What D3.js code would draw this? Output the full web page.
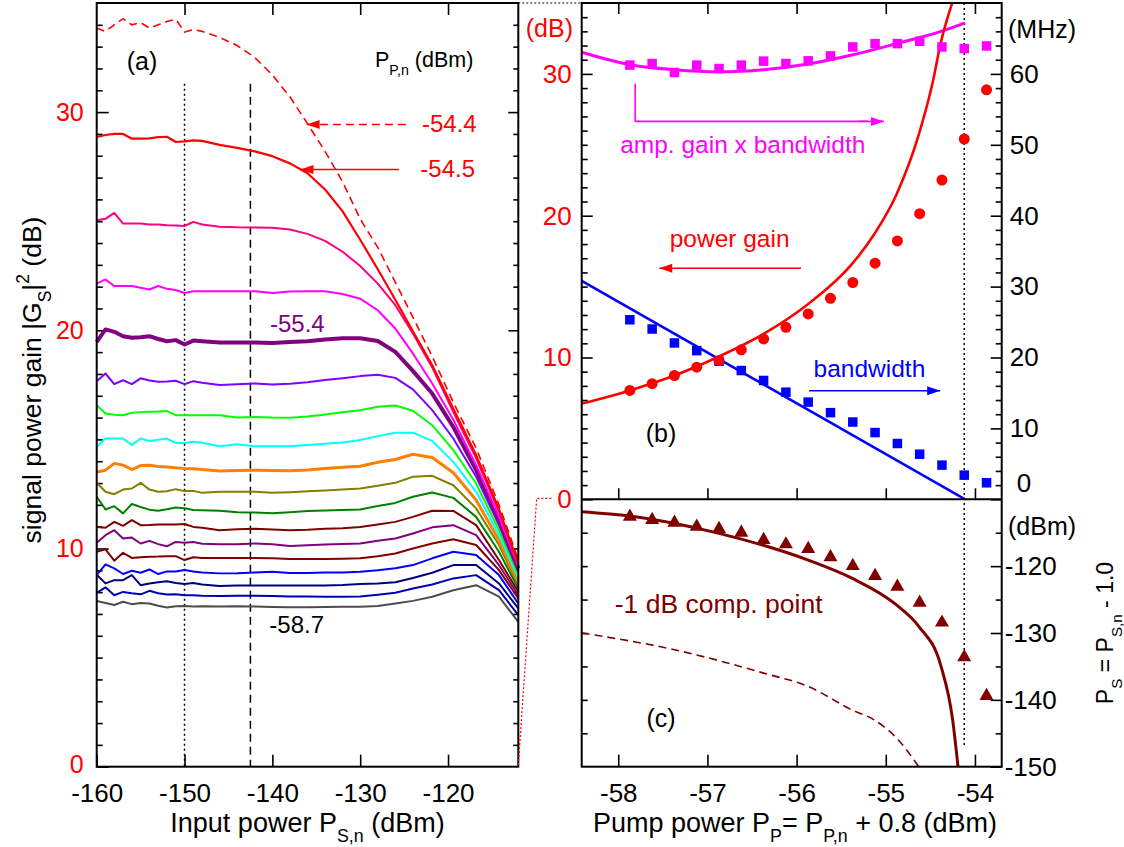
<!DOCTYPE html>
<html><head><meta charset="utf-8">
<script src="https://cdn.jsdelivr.net/npm/d3@7"></script>
<style>
body{margin:0;background:#fff;}
text{font-family:"Liberation Sans",Arial,sans-serif;white-space:pre;}
</style></head><body>
<script>
// ---- panel (a): gain vs input power, one curve per pump power P_P,n ----
const inputPower=[-160,-159,-158,-157,-156,-155,-154,-153,-152,-151,-150,-149,-148,-146,-144,-142,-140,-138,-136,-134,-132,-130,-128,-126,-124,-121.8,-119.4,-116.8,-114.2,-112];
const gainP544=[33.85,33.7,34.0,34.28,34.0,34.1,33.85,34.0,34.15,34.25,33.67,33.78,33.7,33.42,33.05,32.5,31.7,30.7,29.47,28.2,26.8,25.1,23.8,22.2,20.6,18.8,16.7,14.6,12.0,9.5];
const gainP545=[28.86,28.95,29.0,29.0,28.78,28.78,28.8,28.85,28.87,28.63,28.66,28.7,28.68,28.5,28.36,28.2,27.98,27.65,27.2,26.45,25.45,24.15,22.8,21.4,19.95,18.4,16.4,14.28,11.8,9.32];
const gainP549=[25.04,25.11,25.38,24.89,24.89,24.89,24.85,24.85,24.82,24.8,24.78,24.97,24.85,24.75,24.72,24.71,24.7,24.62,24.42,24.1,23.6,22.95,22.14,21.15,19.85,18.3,16.25,14.13,11.68,9.24];
const gainP552=[22.14,22.33,22.03,22.03,22.03,21.95,21.87,22.03,21.9,21.85,21.71,21.79,21.79,21.79,21.79,21.79,21.71,21.78,21.79,21.79,21.66,21.45,20.92,20.08,18.94,17.56,15.9,13.82,11.45,9.16];
const gainP554=[19.47,20.04,19.93,19.73,19.66,19.68,19.73,19.6,19.5,19.55,19.35,19.53,19.5,19.44,19.44,19.44,19.42,19.46,19.5,19.58,19.64,19.64,19.51,19.01,18.14,17.1,15.57,13.59,11.3,9.09];
const gainP557=[17.67,18.02,17.53,17.71,17.53,17.8,17.7,17.64,17.65,17.69,17.53,17.67,17.6,17.49,17.53,17.56,17.52,17.55,17.62,17.72,17.8,17.9,17.96,17.82,17.29,16.34,15.04,13.29,11.07,8.93];
const gainP559=[16.57,16.19,16.13,16.11,16.22,16.25,16.27,16.28,16.3,16.11,16.11,16.11,16.11,16.11,16.0,16.03,16.0,15.99,16.05,16.14,16.24,16.34,16.5,16.55,16.31,15.65,14.51,12.98,10.84,8.78];
const gainP562=[14.66,15.04,15.04,15.04,14.74,15.04,14.93,14.98,15.04,14.84,14.84,14.89,14.85,14.69,14.78,14.69,14.69,14.69,14.74,14.8,14.86,14.97,15.15,15.3,15.31,14.93,13.97,12.6,10.61,8.63];
const gainP564=[13.51,13.59,13.9,13.82,13.62,13.8,13.82,13.76,13.74,13.7,13.67,13.66,13.62,13.55,13.57,13.59,13.57,13.56,13.6,13.67,13.72,13.77,13.95,14.08,14.32,14.17,13.47,12.22,10.38,8.48];
const gainP567=[13.01,12.6,12.49,12.7,12.75,13.01,12.7,12.6,12.62,12.72,12.63,12.64,12.55,12.6,12.6,12.6,12.55,12.58,12.62,12.66,12.7,12.75,12.88,13.01,13.29,13.33,12.9,11.84,10.16,8.32];
const gainP569=[12.37,11.79,11.94,11.61,12.04,11.9,11.78,11.73,11.8,11.88,11.84,11.76,11.75,11.73,11.66,11.65,11.61,11.66,11.72,11.74,11.76,11.79,11.95,12.09,12.37,12.57,12.32,11.45,9.85,8.17];
const gainP572=[10.99,10.95,11.22,11.04,11.3,11.07,11.08,11.1,11.1,11.1,11.12,10.99,10.95,10.84,10.88,10.9,10.87,10.84,10.86,10.9,10.93,10.99,11.1,11.22,11.45,11.73,11.72,11.07,9.47,8.02];
const gainP574=[10.26,10.61,10.84,10.46,10.5,10.23,10.35,10.2,10.1,10.3,10.26,10.3,10.22,10.19,10.2,10.23,10.2,10.12,10.15,10.18,10.21,10.23,10.35,10.46,10.69,10.97,11.07,10.61,9.24,7.86];
const gainP577=[9.85,9.96,9.44,9.8,9.57,9.6,9.62,9.63,9.65,9.65,9.47,9.6,9.57,9.57,9.57,9.57,9.55,9.52,9.52,9.52,9.53,9.55,9.65,9.77,10.0,10.23,10.42,10.16,9.01,7.71];
const gainP579=[8.78,9.27,9.09,8.83,8.98,8.89,9.04,8.83,8.95,8.95,9.01,8.95,8.9,8.86,8.87,8.9,8.94,8.88,8.88,8.9,8.9,8.93,9.0,9.09,9.24,9.55,9.85,9.7,8.78,7.48];
const gainP582=[8.8,8.4,8.55,8.55,8.78,8.32,8.4,8.45,8.5,8.42,8.37,8.42,8.35,8.28,8.3,8.3,8.3,8.3,8.3,8.31,8.33,8.37,8.4,8.45,8.65,8.89,9.24,9.24,8.4,7.26];
const gainP584=[7.97,8.22,7.86,8.01,7.95,7.9,8.06,7.95,7.89,7.9,7.86,7.86,7.84,7.82,7.84,7.84,7.82,7.8,7.8,7.79,7.79,7.8,7.88,7.97,8.17,8.35,8.63,8.78,8.09,6.95];
const gainP587=[7.59,7.5,7.41,7.56,7.45,7.5,7.48,7.38,7.3,7.35,7.36,7.34,7.35,7.34,7.35,7.34,7.32,7.31,7.31,7.32,7.33,7.33,7.36,7.48,7.6,7.79,8.09,8.32,7.79,6.64];

// ---- panels (b),(c): versus pump power P_P ----
const pumpPower=[-57.87,-57.62,-57.37,-57.12,-56.87,-56.62,-56.37,-56.12,-55.87,-55.62,-55.37,-55.12,-54.87,-54.62,-54.37,-54.12,-53.87];
const gainBandwidth=[61.24,61.46,60.2,61.24,60.76,61.24,61.8,61.46,61.84,62.54,63.8,64.27,64.27,64.6,63.8,63.57,63.94];
const powerGain=[7.68,8.15,8.73,9.32,9.79,10.54,11.31,12.13,13.07,14.17,15.29,16.65,18.22,20.14,22.51,25.41,28.88];
const bandwidth=[25.32,24.02,22.05,20.97,19.47,18.16,16.76,15.11,13.71,12.22,10.9,9.41,7.87,6.36,4.82,3.41,2.33];
const compPoint=[-112.6,-113.09,-113.49,-114.09,-114.43,-114.98,-116.07,-116.72,-117.42,-118.66,-119.96,-121.46,-123.06,-125.45,-128.44,-133.62,-139.4];

const gainTheoryP=[-58.41,-57.87,-57.37,-56.87,-56.37,-55.87,-55.38,-55.13,-54.88,-54.63,-54.48,-54.38,-54.25];
const gainTheory=[6.75,7.68,8.73,10.07,11.66,13.77,16.58,18.69,21.5,25.72,29.23,32.28,35.1];
const gbwTheoryP=[-58.41,-57.87,-57.37,-56.87,-56.37,-55.87,-55.38,-54.88,-54.38,-54.11];
const gbwTheory=[63.05,61.3,60.6,60.3,60.6,61.4,62.66,64.27,65.99,67.2];
const bwTheoryP=[-58.41,-54.11];
const bwTheory=[30.8,0];
const compTheoryP=[-58.41,-57.87,-56.87,-55.87,-55.38,-54.88,-54.63,-54.38,-54.25,-54.19];
const compTheory=[-111.85,-112.5,-115.1,-119.1,-121.8,-125.8,-129.0,-135.0,-143.0,-150];
const compDashP=[-58.41,-57.37,-56.37,-55.87,-55.38,-55.13,-54.88,-54.63];
const compDash=[-130.0,-132.5,-136.0,-138.0,-141.5,-143.0,-145.7,-150];

const ticksA=[-160,-150,-140,-130,-120];
const ticksB=[-58,-57,-56,-55,-54];

const W=1124,H=847,FS=26,TS=27;
const svg=d3.select("body").append("svg").attr("width",W).attr("height",H);

const xA=d3.scaleLinear().domain([-160,-112]).range([96.7,518.3]);
const yA=d3.scaleLinear().domain([0,35]).range([766.7,3]);
const xB=d3.scaleLinear().domain([-58.41,-53.70]).range([581.7,1001.7]);
const yB=d3.scaleLinear().domain([0,35]).range([499.3,3]);
const yBr=d3.scaleLinear().domain([0,70]).range([499.3,3]);
const yC=d3.scaleLinear().domain([-150,-110]).range([766.7,499.3]);
const fmt=d=>String(d);

// rich text with sub/superscripts
const rich=(sel,parts,size)=>{
  let shift=0;
  parts.forEach(([t,k])=>{
    let target=k==="sub"?size*0.38:k==="sup"?-size*0.45:0;
    sel.append("tspan").attr("dy",target-shift).attr("font-size",k?size*0.66:size).text(t);
    shift=target;
  });
  return sel;
}
const label=(x,y,parts,opt={})=>{
  let t=svg.append("text").attr("x",x).attr("y",y)
    .attr("fill",opt.fill||"#000").attr("text-anchor",opt.anchor||"start");
  if(opt.rotate) t.attr("transform",`rotate(-90,${x},${y})`);
  return rich(t,typeof parts==="string"?[[parts,0]]:parts,opt.size||25);
}

const axis=(gen,tx,ty,color,size)=>{
  let g=svg.append("g").attr("transform",`translate(${tx},${ty})`).call(gen);
  g.select(".domain").remove();
  g.attr("font-size",size||FS).attr("font-family",null);
  g.selectAll(".tick line").attr("stroke","#000").attr("stroke-width",1.6);
  g.selectAll(".tick text").attr("fill",color||"#000");
  return g;
}

// ---- panel (a) ----
let la=axis(d3.axisLeft(yA).tickValues([0,10,20,30]).tickFormat(fmt).tickSizeInner(-12).tickSizeOuter(0).tickPadding(13),96.7,0,"#ff0000",25);
la.selectAll(".tick text").filter(d=>d===0).attr("y",-2);
axis(d3.axisLeft(yA).tickValues(d3.range(1,35).filter(v=>v%10)).tickSize(-6).tickFormat(""),96.7,0);
axis(d3.axisRight(yA).tickValues([10,20,30]).tickSize(-10).tickFormat(""),518.3,0);
axis(d3.axisRight(yA).tickValues(d3.range(1,35).filter(v=>v%10)).tickSize(-5).tickFormat(""),518.3,0);
axis(d3.axisBottom(xA).tickValues(ticksA).tickFormat(fmt).tickSizeInner(-12).tickSizeOuter(0).tickPadding(17),0,766.7);
axis(d3.axisTop(xA).tickValues(ticksA.slice(1)).tickSize(-12).tickFormat(""),0,3);

// guide lines at -150 and -142.5
svg.append("line").attr("x1",xA(-150)).attr("x2",xA(-150)).attr("y1",yA(31.3)).attr("y2",yA(0))
  .attr("stroke","#000").attr("stroke-width",1.5).attr("stroke-dasharray","2,3");
svg.append("line").attr("x1",xA(-142.5)).attr("x2",xA(-142.5)).attr("y1",yA(31.3)).attr("y2",yA(0))
  .attr("stroke","#000").attr("stroke-width",1.5).attr("stroke-dasharray","8,5");

const curvesA=[gainP587,gainP584,gainP582,gainP579,gainP577,gainP574,gainP572,gainP569,gainP567,gainP564,gainP562,gainP559,gainP557,gainP554,gainP552,gainP549,gainP545];
const colorsA=["#4d4d4d","#0000b0","#000080","#0000ff","#800000","#800080","#800000","#008000","#808000","#ff8000","#00ffff","#00ff00","#8000ff","#800080","#ff00ff","#ff0080","#ff0000"];
const widthsA=[2,2,2,2,2,2,2,2,2,3,2,2,2,4,2,2,2.2];
const lineA=d3.line().x((d,i)=>xA(inputPower[i])).y(d=>yA(d));
svg.append("g").selectAll("path").data(curvesA).join("path")
  .attr("d",lineA).attr("fill","none")
  .attr("stroke",(d,i)=>colorsA[i]).attr("stroke-width",(d,i)=>widthsA[i]).attr("stroke-linejoin","round");
svg.append("path").attr("d",lineA(gainP544)).attr("fill","none")
  .attr("stroke","#ff0000").attr("stroke-width",1.6).attr("stroke-dasharray","8,5");

// arrows
const arrow=(x1,y1,x2,y2,color,dash,w)=>{
  svg.append("line").attr("x1",x1).attr("y1",y1).attr("x2",x2).attr("y2",y2)
    .attr("stroke",color).attr("stroke-width",w||1.6).attr("stroke-dasharray",dash||null);
  let a=Math.atan2(y2-y1,x2-x1),L=13,hw=4.5;
  let bx=x2-L*Math.cos(a),by=y2-L*Math.sin(a);
  svg.append("path").attr("fill",color)
    .attr("d",`M${x2},${y2}L${bx-hw*Math.sin(a)},${by+hw*Math.cos(a)}L${bx+hw*Math.sin(a)},${by-hw*Math.cos(a)}Z`);
}
arrow(xA(-124.8),yA(29.43),xA(-136.1),yA(29.43),"#ff0000","8,5");
arrow(xA(-125.6),yA(27.37),xA(-136.8),yA(27.37),"#ff0000");

label(126.7,70,"(a)");
label(375,66.7,[["P",0],["P,n","sub"],[" (dBm)",0]],{size:21.5});
label(476.7,132,"-54.4",{fill:"#ff0000",anchor:"end",size:24});
label(475,177,"-54.5",{fill:"#ff0000",anchor:"end",size:24});
label(270,331.7,"-55.4",{fill:"#800080",size:24});
label(269.3,633,"-58.7",{size:24});
label(41,380,[["signal power gain |G",0],["S","sub"],["|",0],["2","sup"],[" (dB)",0]],{anchor:"middle",rotate:true,size:26.5});
label(307.5,832,[["Input power P",0],["S,n","sub"],[" (dBm)",0]],{anchor:"middle",size:TS});

// ---- panels (b),(c) axes ----
axis(d3.axisLeft(yB).tickValues([0,10,20,30]).tickFormat(fmt).tickSizeInner(-11).tickSizeOuter(0).tickPadding(10),581.7,0,"#ff0000");
axis(d3.axisLeft(yB).tickValues(d3.range(1,35).filter(v=>v%10)).tickSize(-6).tickFormat(""),581.7,0);
let rb=axis(d3.axisRight(yBr).tickValues(d3.range(0,70,10)).tickFormat(fmt).tickSizeInner(-11).tickSizeOuter(0).tickPadding(8),1001.7,0);
rb.selectAll(".tick text").filter(d=>d===0).attr("y",-16).attr("x",15);
axis(d3.axisRight(yBr).tickValues(d3.range(2,70,2).filter(v=>v%10)).tickSize(-6).tickFormat(""),1001.7,0);
axis(d3.axisTop(xB).tickValues(ticksB).tickSize(-11).tickFormat(""),0,3);
axis(d3.axisBottom(xB).tickValues(ticksB).tickSize(-11).tickFormat(""),0,499.3);
axis(d3.axisBottom(xB).tickValues(ticksB).tickFormat(fmt).tickSizeInner(-12).tickSizeOuter(0).tickPadding(17),0,766.7);
axis(d3.axisLeft(yC).tickValues([-145,-140,-135,-130,-125,-120,-115]).tickSize(-6).tickFormat(""),581.7,0);
axis(d3.axisRight(yC).tickValues([-150,-140,-130,-120]).tickFormat(fmt).tickSizeInner(-11).tickSizeOuter(0).tickPadding(3),1001.7,0);
axis(d3.axisRight(yC).tickValues([-145,-135,-125,-115]).tickSize(-6).tickFormat(""),1001.7,0);

svg.append("defs").append("clipPath").attr("id","clipB").append("rect")
  .attr("x",581.7).attr("y",3).attr("width",420).attr("height",496.3);
svg.append("defs").append("clipPath").attr("id","clipC").append("rect")
  .attr("x",581.7).attr("y",499.3).attr("width",420).attr("height",267.4);

// dotted limit line
svg.append("line").attr("x1",xB(-54.12)).attr("x2",xB(-54.12)).attr("y1",3).attr("y2",yC(-147))
  .attr("stroke","#000").attr("stroke-width",1.5).attr("stroke-dasharray","2,3");

const gB=svg.append("g").attr("clip-path","url(#clipB)");
const curve=(g,xs,ys,sx,sy,color,w,dash)=>g.append("path")
  .attr("d",d3.line().curve(d3.curveMonotoneX).x((d,i)=>sx(xs[i])).y(d=>sy(d))(ys))
  .attr("fill","none").attr("stroke",color).attr("stroke-width",w).attr("stroke-dasharray",dash||null);
curve(gB,gbwTheoryP,gbwTheory,xB,yBr,"#ff00ff",3);
curve(gB,bwTheoryP,bwTheory,xB,yBr,"#0000ff",2.6);
curve(gB,gainTheoryP,gainTheory,xB,yB,"#ff0000",2.6);

const sq=9.5;
gB.append("g").selectAll("rect").data(gainBandwidth).join("rect")
  .attr("x",(d,i)=>xB(pumpPower[i])-sq/2).attr("y",d=>yBr(d)-sq/2).attr("width",sq).attr("height",sq).attr("fill","#ff00ff");
gB.append("g").selectAll("rect").data(bandwidth).join("rect")
  .attr("x",(d,i)=>xB(pumpPower[i])-sq/2).attr("y",d=>yBr(d)-sq/2).attr("width",sq).attr("height",sq).attr("fill","#0000ff");
gB.append("g").selectAll("circle").data(powerGain).join("circle")
  .attr("cx",(d,i)=>xB(pumpPower[i])).attr("cy",d=>yB(d)).attr("r",5.5).attr("fill","#ff0000");

const gC=svg.append("g").attr("clip-path","url(#clipC)");
curve(gC,compTheoryP,compTheory,xB,yC,"#800000",3);
curve(gC,compDashP,compDash,xB,yC,"#800000",1.6,"8,5");
svg.append("g").selectAll("path").data(compPoint).join("path")
  .attr("d",d3.symbol(d3.symbolTriangle,85)).attr("fill","#800000")
  .attr("transform",(d,i)=>`translate(${xB(pumpPower[i])},${yC(d)})`);

// annotations (b)
label(573,37,"(dB)",{fill:"#ff0000",anchor:"end"});
label(1008,38,"(MHz)");
label(620.2,153.3,"amp. gain x bandwidth",{fill:"#ff00ff",size:24.5});
svg.append("path").attr("d",`M${xB(-57.81)},${yBr(58.6)}V${yBr(53.3)}H${xB(-55.2)}`)
  .attr("fill","none").attr("stroke","#ff00ff").attr("stroke-width",1.6);
arrow(xB(-55.3),yBr(53.3),xB(-55.02),yBr(53.3),"#ff00ff");
label(669.7,246.7,"power gain",{fill:"#ff0000",size:24.5});
arrow(xB(-55.95),yB(16.29),xB(-57.54),yB(16.29),"#ff0000");
label(813.6,376.7,"bandwidth",{fill:"#0000ff",size:24.5});
arrow(xB(-55.86),yBr(15.3),xB(-54.39),yBr(15.3),"#0000ff");
label(645.8,441.7,"(b)");

// annotations (c)
label(1008,535,"(dBm)");
label(614.8,612.7,"-1 dB comp. point",{fill:"#800000",size:26.5});
label(646.5,726.7,"(c)");
label(1113,633,[["P",0],["S","sub"],[" = P",0],["S,n","sub"],[" - 1.0",0]],{anchor:"middle",rotate:true,size:23});
label(795,832,[["Pump power P",0],["P","sub"],["= P",0],["P,n","sub"],[" + 0.8 (dBm)",0]],{anchor:"middle",size:TS});

// frames
svg.append("rect").attr("x",96.7).attr("y",3).attr("width",518.3-96.7).attr("height",763.7)
  .attr("fill","none").attr("stroke","#000").attr("stroke-width",2);
svg.append("rect").attr("x",581.7).attr("y",3).attr("width",420).attr("height",763.7)
  .attr("fill","none").attr("stroke","#000").attr("stroke-width",2);
svg.append("line").attr("x1",581.7).attr("x2",1001.7).attr("y1",499.3).attr("y2",499.3)
  .attr("stroke","#000").attr("stroke-width",2);

// zoom connectors between (a) and (b)
svg.append("line").attr("x1",518.3).attr("x2",581.7).attr("y1",3).attr("y2",3)
  .attr("stroke","#000").attr("stroke-width",1.2).attr("stroke-dasharray","2,2");
svg.append("path").attr("d","M518.3,765L536.7,498.3H553.3").attr("fill","none")
  .attr("stroke","#ff0000").attr("stroke-width",1.2).attr("stroke-dasharray","2,2");
</script>
</body></html>
